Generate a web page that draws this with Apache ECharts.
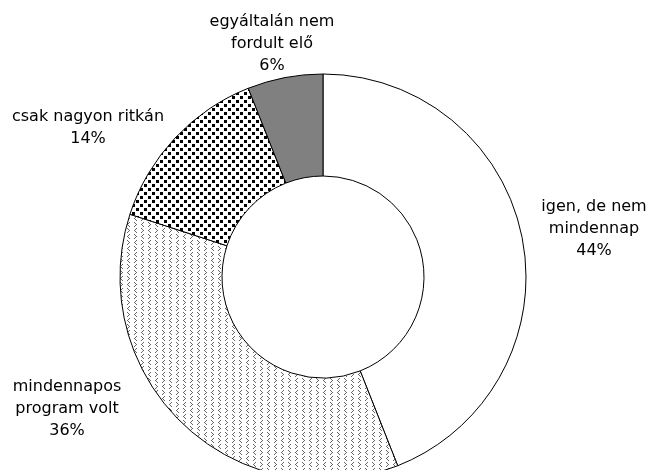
<!DOCTYPE html>
<html>
<head>
<meta charset="utf-8">
<script src="https://cdn.jsdelivr.net/npm/echarts@6/dist/echarts.min.js"></script>
<style>
html,body{margin:0;padding:0;background:#fff;}
#chart{width:649px;height:470px;}
</style>
</head>
<body>
<div id="chart"></div>
<script>
const categories = ['igen, de nem\nmindennap', 'mindennapos\nprogram volt', 'csak nagyon ritkán', 'egyáltalán nem\nfordult elő'];
const values = [44, 36, 14, 6];
const labelPos = [[594, 229], [67, 409], [88, 128], [272, 44]];

function makeTile(w, h, draw) {
  const c = document.createElement('canvas');
  c.width = w; c.height = h;
  const ctx = c.getContext('2d');
  ctx.fillStyle = '#fff';
  ctx.fillRect(0, 0, w, h);
  draw(ctx);
  return c;
}
const dotTile = makeTile(8, 8, ctx => {
  ctx.fillStyle = '#000';
  ctx.fillRect(0, 0, 3, 3);
  ctx.fillRect(4, 4, 3, 3);
});
const chevTile = makeTile(14, 12, ctx => {
  ctx.fillStyle = '#666';
  function gt(x, y) { ctx.fillRect(x, y, 1, 1); ctx.fillRect(x + 1, y + 1, 1, 1); ctx.fillRect(x + 2, y + 2, 1, 1); ctx.fillRect(x + 1, y + 3, 1, 1); ctx.fillRect(x, y + 4, 1, 1); }
  function lt(x, y) { ctx.fillRect(x + 2, y, 1, 1); ctx.fillRect(x + 1, y + 1, 1, 1); ctx.fillRect(x, y + 2, 1, 1); ctx.fillRect(x + 1, y + 3, 1, 1); ctx.fillRect(x + 2, y + 4, 1, 1); }
  gt(1, 0); lt(8, 0);
  lt(1, 6); gt(8, 6);
});
const fills = ['#ffffff', {image: chevTile, repeat: 'repeat'}, {image: dotTile, repeat: 'repeat'}, '#808080'];

const chart = echarts.init(document.getElementById('chart'), null, {renderer: 'canvas'});
chart.setOption({
  animation: false,
  backgroundColor: '#fff',
  series: [{
    type: 'pie',
    center: [323, 277],
    radius: [101, 203],
    startAngle: 90,
    clockwise: true,
    avoidLabelOverlap: false,
    silent: true,
    data: categories.map((n, i) => ({name: n, value: values[i], itemStyle: {color: fills[i]}})),
    itemStyle: {borderColor: '#000', borderWidth: 1},
    label: {
      show: true,
      position: 'outside',
      formatter: '{b}\n{c}%',
      fontFamily: 'DejaVu Sans',
      fontSize: 16,
      lineHeight: 22,
      color: '#000',
      align: 'center'
    },
    labelLine: {show: false},
    labelLayout: function (p) {
      const pos = labelPos[p.dataIndex];
      return {x: pos[0], y: pos[1], align: 'center', verticalAlign: 'middle'};
    }
  }]
});
</script>
</body>
</html>
